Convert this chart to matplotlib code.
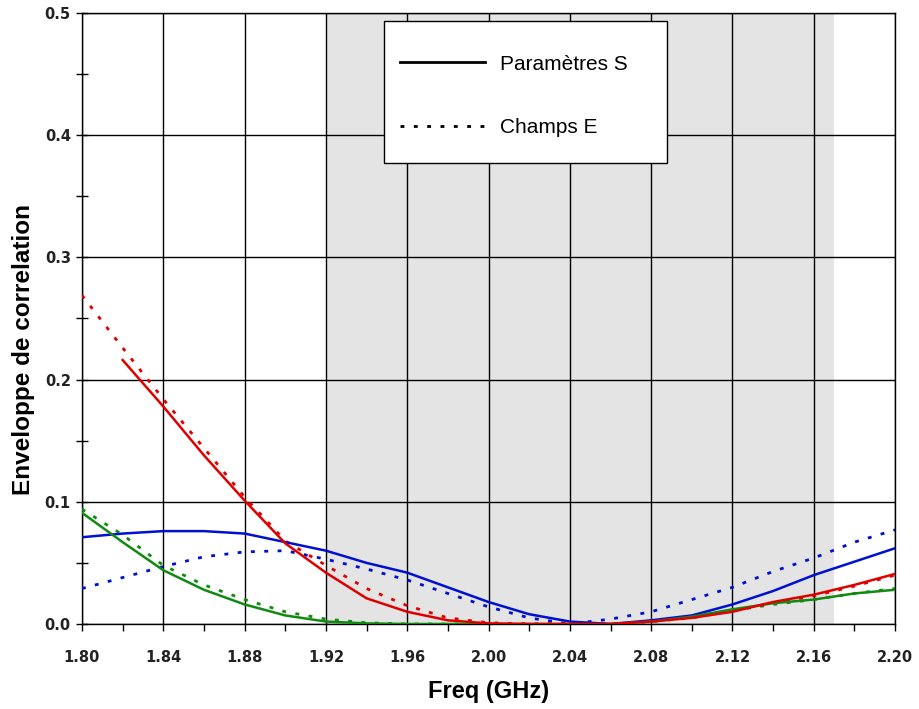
import matplotlib
matplotlib.use('Agg')
import matplotlib.pyplot as plt
from matplotlib.lines import Line2D
from matplotlib.patches import Rectangle
from matplotlib.ticker import MultipleLocator, FormatStrFormatter

plt.rcParams['font.family'] = ['Liberation Sans', 'DejaVu Sans']

# frequency grid (GHz)
freq = [1.80, 1.82, 1.84, 1.86, 1.88, 1.90, 1.92, 1.94, 1.96, 1.98, 2.00,
        2.02, 2.04, 2.06, 2.08, 2.10, 2.12, 2.14, 2.16, 2.18, 2.20]
freq_red_s = freq[1:]

# solid lines: from S parameters
red_s = [0.216, 0.178, 0.138, 0.101, 0.066, 0.042, 0.021, 0.010, 0.003, 0.0005,
         0.0, 0.0, 0.0, 0.002, 0.005, 0.010, 0.018, 0.024, 0.032, 0.041]
blue_s = [0.071, 0.074, 0.076, 0.076, 0.074, 0.067, 0.060, 0.050, 0.042, 0.030, 0.018,
          0.008, 0.002, 0.0, 0.003, 0.007, 0.016, 0.027, 0.040, 0.051, 0.062]
green_s = [0.091, 0.067, 0.044, 0.028, 0.016, 0.007, 0.002, 0.0005, 0.0, 0.0, 0.0,
           0.0, 0.0, 0.0, 0.002, 0.006, 0.012, 0.017, 0.020, 0.025, 0.028]

# dotted lines: from E fields
red_e = [0.269, 0.226, 0.184, 0.144, 0.104, 0.068, 0.048, 0.029, 0.015, 0.005, 0.001,
         0.0, 0.0, 0.0, 0.002, 0.005, 0.011, 0.017, 0.023, 0.031, 0.040]
blue_e = [0.029, 0.038, 0.047, 0.055, 0.059, 0.060, 0.053, 0.045, 0.036, 0.025, 0.014,
          0.005, 0.0, 0.004, 0.010, 0.020, 0.030, 0.043, 0.054, 0.067, 0.077]
green_e = [0.094, 0.073, 0.048, 0.032, 0.020, 0.010, 0.004, 0.001, 0.0, 0.0, 0.0,
           0.0, 0.0, 0.0, 0.002, 0.006, 0.011, 0.016, 0.020, 0.025, 0.029]

band = (1.92, 2.17)

RED = '#e00000'
BLUE = '#0010d0'
GREEN = '#108a10'
DOT = (0, (1.4, 3.4))

fig = plt.figure(figsize=(9.19, 7.09), dpi=100)
ax = fig.add_axes([0.0892, 0.1199, 0.8848, 0.8618])

ax.axvspan(band[0], band[1], color='#e4e4e4', zorder=0, lw=0)

ax.plot(freq, blue_e, color=BLUE, lw=2.0, ls=DOT, zorder=3)
ax.plot(freq, green_e, color=GREEN, lw=2.0, ls=DOT, zorder=3)
ax.plot(freq, red_e, color=RED, lw=2.0, ls=DOT, zorder=3)
ax.plot(freq, blue_s, color=BLUE, lw=1.8, zorder=4)
ax.plot(freq, green_s, color=GREEN, lw=1.8, zorder=4)
ax.plot(freq_red_s, red_s, color=RED, lw=1.8, zorder=4)

ax.set_xlim(1.80, 2.20)
ax.set_ylim(0.0, 0.5)
ax.xaxis.set_major_locator(MultipleLocator(0.04))
ax.xaxis.set_minor_locator(MultipleLocator(0.02))
ax.yaxis.set_major_locator(MultipleLocator(0.1))
ax.yaxis.set_minor_locator(MultipleLocator(0.05))
ax.xaxis.set_major_formatter(FormatStrFormatter('%.2f'))
ax.yaxis.set_major_formatter(FormatStrFormatter('%.1f'))
ax.grid(True, which='major', color='black', lw=1.0, zorder=1)
ax.set_axisbelow(True)

ax.tick_params(axis='x', which='both', direction='out', length=5, width=1, pad=14)
ax.tick_params(axis='y', which='both', direction='inout', length=8, width=1, pad=4)
for lab in ax.get_xticklabels() + ax.get_yticklabels():
    lab.set_family('DejaVu Sans')
    lab.set_fontweight('bold')
    lab.set_fontsize(10.5)
    lab.set_color('#222222')

for sp in ax.spines.values():
    sp.set_color('black')
    sp.set_linewidth(1.0)

ax.set_xlabel('Freq (GHz)', fontsize=17, fontweight='bold', va='center')
ax.xaxis.set_label_coords(0.5, -0.111)
ax.set_ylabel('Enveloppe de correlation', fontsize=17.5, fontweight='bold', va='center')
ax.yaxis.set_label_coords(-0.072, 0.45)

# legend box
ax.add_patch(Rectangle((0.371, 0.7545), 0.3486, 0.2325, transform=ax.transAxes,
                       facecolor='white', edgecolor='black', lw=1.0, zorder=5))
handles = [Line2D([], [], color='black', lw=2),
           Line2D([], [], color='black', lw=2.0, ls=DOT)]
leg = ax.legend(handles, ['Paramètres S', 'Champs E'], loc='upper left',
                bbox_to_anchor=(0.391, 0.932), prop={'family': 'Liberation Sans', 'size': 15},
                handlelength=4.1, handletextpad=0.72, labelspacing=2.15, borderpad=0,
                borderaxespad=0, frameon=False)
leg.set_zorder(6)

fig.savefig('out.png', dpi=100)
